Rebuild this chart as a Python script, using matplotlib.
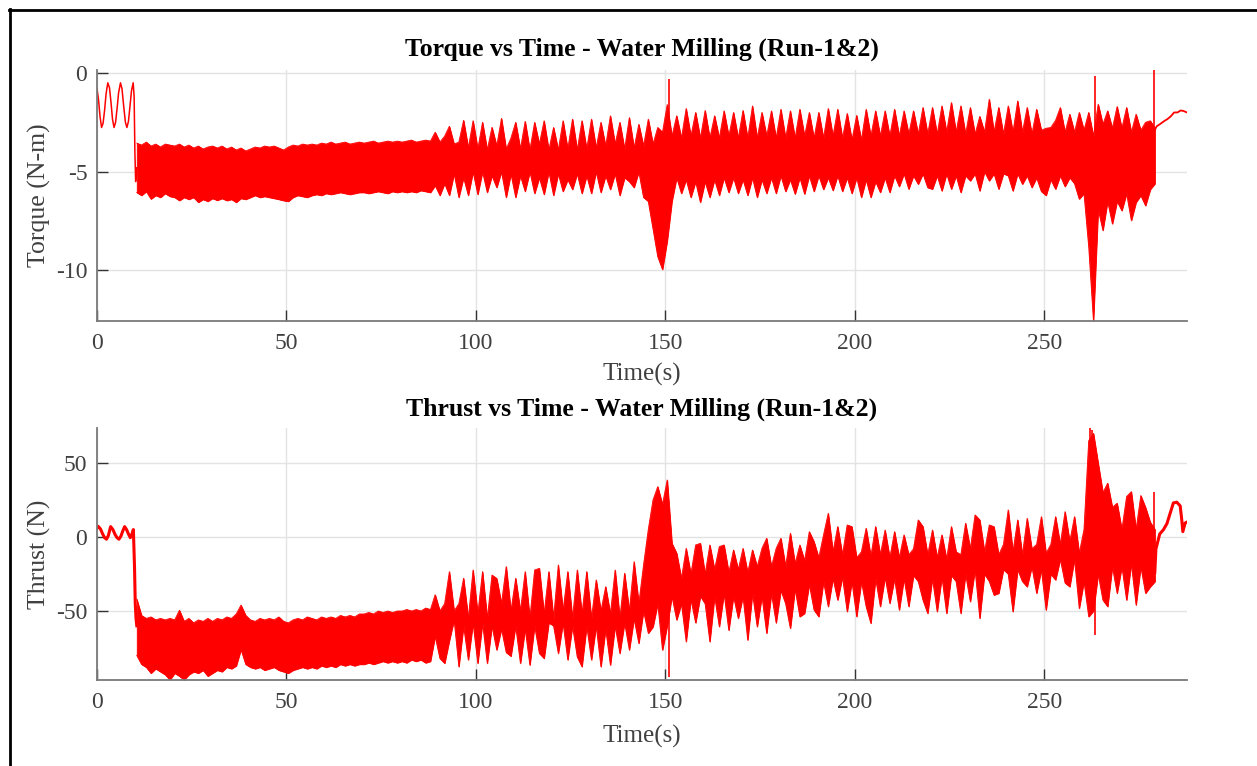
import numpy as np
import matplotlib
matplotlib.use("Agg")
import matplotlib.pyplot as plt
from matplotlib.lines import Line2D

# ---------------- data ----------------
# start-up oscillation before milling begins
torque_start_t = [0, 0.4, 0.8, 1.2, 1.6, 2.0, 2.4, 2.85, 3.3, 3.7, 4.1, 4.5, 4.9, 5.3,
                  5.7, 6.2, 6.6, 7.0, 7.5, 7.9, 8.3, 8.7, 9.1, 9.55, 9.8, 10.0, 10.2, 10.5]
torque_start_v = [-0.8, -1.35, -2.2, -2.76, -2.55, -1.9, -1.05, -0.5, -0.75, -1.5, -2.35, -2.76,
                  -2.5, -1.8, -1.0, -0.5, -0.8, -1.6, -2.5, -2.76, -2.45, -1.7, -0.9, -0.5,
                  -1.2, -4.0, -5.5, -4.8]
thrust_start_t = [0, 0.3, 0.9, 1.5, 2.0, 2.5, 3.0, 3.6, 4.2, 4.8, 5.3, 5.8, 6.3, 6.8,
                  7.3, 7.8, 8.3, 8.8, 9.3, 9.6, 9.9, 10.1, 10.3, 10.5]
thrust_start_v = [6, 7.2, 5.5, 2, -0.5, -1.5, 1, 7, 5, 1.5, -0.5, -1.5, 0.5, 4,
                  7, 5, 2, -0.5, 2.5, 5, -20, -45, -55, -60]

# envelope sampling grid of the dense milling signal (s)
band_t0 = 10.5
band_dt = 1.25

torque_upper = [
    -3.55, -3.65, -3.5, -3.7, -3.6, -3.75, -3.6, -3.65,
    -3.7, -3.6, -3.75, -3.65, -3.8, -3.7, -3.85, -3.75,
    -3.7, -3.8, -3.7, -3.85, -3.75, -3.9, -3.8, -3.95,
    -3.85, -3.75, -3.8, -3.7, -3.75, -3.7, -3.8, -3.9,
    -3.75, -3.65, -3.7, -3.6, -3.65, -3.6, -3.65, -3.55,
    -3.6, -3.5, -3.6, -3.55, -3.5, -3.6, -3.55, -3.5,
    -3.55, -3.5, -3.45, -3.55, -3.5, -3.45, -3.5, -3.45,
    -3.5, -3.45, -3.4, -3.5, -3.45, -3.4, -3.45, -3.0,
    -3.5, -3.2, -2.7, -3.6, -3.5, -2.4, -3.8, -2.42,
    -3.85, -2.5, -3.9, -2.75, -3.7, -2.3, -3.85, -3.3,
    -2.5, -3.85, -2.45, -3.9, -2.5, -3.6, -2.42, -3.9,
    -2.76, -3.9, -2.42, -3.85, -2.34, -3.9, -2.42, -3.85,
    -2.34, -3.8, -2.5, -3.7, -2.17, -3.6, -2.5, -3.85,
    -2.26, -3.8, -2.6, -3.7, -2.34, -3.6, -2.76, -3.0,
    -1.6, -3.2, -2.17, -3.3, -1.8, -3.2, -2.0, -3.3,
    -1.9, -3.3, -2.17, -3.3, -1.92, -3.2, -2.0, -3.3,
    -1.9, -3.3, -1.67, -3.3, -2.0, -3.2, -1.92, -3.3,
    -1.84, -3.3, -1.92, -3.3, -1.84, -3.2, -2.0, -3.3,
    -2.0, -3.3, -1.8, -3.2, -1.84, -3.3, -2.05, -3.4,
    -2.15, -3.4, -1.84, -3.2, -1.92, -3.2, -1.92, -3.2,
    -1.84, -3.2, -1.92, -3.1, -1.92, -3.1, -1.75, -3.1,
    -1.75, -3.1, -1.67, -3.0, -1.5, -3.0, -1.67, -3.1,
    -1.75, -3.1, -2.2, -3.0, -1.33, -3.0, -1.75, -3.1,
    -1.67, -3.0, -1.42, -3.0, -1.75, -3.1, -1.84, -2.9,
    -2.8, -2.76, -2.4, -1.75, -3.0, -2.09, -3.0, -2.0,
    -2.9, -2.0, -3.2, -1.58, -2.6, -1.92, -2.8, -1.7,
    -2.8, -1.75, -3.0, -2.09, -2.9, -2.5, -2.42, -2.8,
]
torque_lower = [
    -6.05, -6.2, -6.0, -6.38, -6.2, -6.3, -6.1, -6.25,
    -6.3, -6.46, -6.3, -6.4, -6.3, -6.55, -6.4, -6.5,
    -6.35, -6.45, -6.35, -6.46, -6.4, -6.55, -6.35, -6.4,
    -6.3, -6.2, -6.3, -6.25, -6.3, -6.35, -6.4, -6.46,
    -6.5, -6.3, -6.2, -6.25, -6.3, -6.2, -6.15, -6.2,
    -6.1, -6.15, -6.1, -6.05, -6.1, -6.15, -6.1, -6.05,
    -6.05, -6.1, -6.05, -6.0, -6.05, -6.1, -6.0, -6.05,
    -6.0, -6.05, -6.0, -6.05, -5.95, -6.0, -6.05, -5.7,
    -6.2, -5.6, -6.2, -5.1, -6.3, -5.3, -6.2, -5.0,
    -6.15, -5.0, -6.05, -5.2, -5.8, -5.0, -6.3, -5.1,
    -6.3, -5.2, -6.0, -5.0, -6.1, -5.3, -6.15, -5.0,
    -6.2, -5.1, -6.0, -5.4, -5.9, -5.1, -6.1, -5.2,
    -6.1, -5.0, -6.05, -5.2, -5.9, -5.1, -6.2, -5.3,
    -5.5, -5.8, -5.0, -6.3, -6.5, -7.9, -9.3, -9.95,
    -8.5, -6.5, -5.3, -6.1, -5.4, -6.3, -5.5, -6.55,
    -5.5, -6.3, -5.4, -6.2, -5.3, -6.05, -5.3, -6.1,
    -5.4, -6.2, -5.3, -6.3, -5.4, -6.1, -5.3, -6.1,
    -5.2, -6.0, -5.4, -6.13, -5.3, -6.13, -5.2, -6.0,
    -5.2, -5.9, -5.3, -5.95, -5.2, -6.0, -5.3, -6.1,
    -5.3, -6.3, -5.4, -6.3, -5.5, -6.05, -5.3, -6.05,
    -5.2, -5.75, -5.1, -5.88, -5.2, -5.63, -5.1, -5.8,
    -5.88, -5.2, -5.97, -5.1, -5.88, -5.2, -6.05, -5.2,
    -5.46, -5.1, -5.97, -5.0, -5.46, -5.1, -5.88, -5.1,
    -5.2, -5.97, -5.1, -5.63, -5.2, -5.8, -5.3, -6.0,
    -6.2, -5.4, -5.88, -5.2, -5.75, -5.3, -5.6, -6.38,
    -6.1, -8.8, -12.55, -6.9, -7.97, -6.5, -7.64, -6.5,
    -6.97, -6.1, -7.47, -6.55, -6.2, -6.72, -5.9, -5.6,
]
thrust_upper = [
    -42, -53, -55, -54, -56, -55, -56, -55,
    -56, -49.5, -57, -55, -58, -56, -57, -55,
    -57, -55, -56, -54, -55, -52, -46, -53,
    -56, -57, -55, -56, -55, -56, -54, -57,
    -58, -56, -55, -56, -54, -55, -56, -54,
    -55, -54, -55, -53, -54, -53, -54, -52,
    -52, -51, -52, -50, -51, -50, -51, -50,
    -50, -49, -50, -49, -50, -48, -49, -39,
    -50, -45, -23.4, -50, -45, -27.9, -55, -22.3,
    -52, -23.4, -55, -25.7, -28, -45, -20, -50,
    -27.9, -50, -23.4, -55, -22.3, -21.2, -52, -23.4,
    -55, -18.9, -50, -23.4, -55, -22.3, -52, -23.4,
    -55, -29, -50, -33.6, -52, -22.3, -55, -24.5,
    -50, -16.7, -45, -18.9, 5, 25, 34, 22,
    38.5, -4.3, -11, -28, -7.7, -25, -5.4, -4.3,
    -25, -5.4, -22, -6.5, -5.4, -24, -8.8, -22,
    -7.7, -24, -8.8, -20, -7.7, -0.9, -20, -7.7,
    -0.9, -20, 2.5, -18, -5.4, -16, 3.6, -3.2,
    -14, 1.3, 16, -10, 7, -12, 8.1, 7,
    -14, -10, 5.9, -13, 7, -12, 4.7, -14,
    3.6, -14, 1.4, -12, -8, 11.5, 7, -12,
    4.7, -14, 1.4, -15, 7, -10, -12, 9.3,
    -8, 14.9, 11.5, -10, 8.1, 7, -12, -5,
    18.3, -10, 11.5, -12, 12.6, -8, -5, 13.7,
    -11, -5, 13.7, -5, 17.1, -3, 13.7, -11,
    5, 65, 70, 49.8, 30, 36.3, 20, 22.8,
    5, 27.3, 30.6, 5, 28, 20, 10, 5,
]
thrust_lower = [
    -80, -86, -88, -92, -89, -91, -93, -96.5,
    -92, -94, -96.5, -93, -91, -92, -90, -94,
    -92, -90, -91, -88, -89, -87, -76, -86,
    -88, -89, -88, -90, -89, -88, -90, -91,
    -92, -90, -89, -88, -89, -88, -89, -87,
    -88, -87, -88, -86, -87, -86, -87, -86,
    -86, -85, -86, -85, -84, -85, -84, -85,
    -84, -85, -83, -84, -83, -85, -84, -67,
    -82, -85.3, -70, -56, -87.6, -60, -83, -58,
    -85.3, -58, -85.3, -60, -76.3, -62, -78, -80.5,
    -60, -85.3, -62, -86.5, -60, -78.6, -82, -58,
    -60, -78.6, -58, -83, -60, -81, -87.6, -60,
    -83, -60, -87.6, -62, -86.5, -60, -78.6, -58,
    -76.3, -55, -71.8, -50, -65, -60.6, -45, -76.3,
    -60, -40, -56, -45, -70.7, -42, -58, -40,
    -45, -70.7, -40, -60.6, -38, -63, -40, -55,
    -40, -69.6, -38, -60.6, -40, -65, -38, -58,
    -36, -45, -61.7, -35, -53.8, -51.6, -32, -49.3,
    -53.8, -30, -47, -28, -42.6, -27, -50.4, -30,
    -53.8, -30, -47, -58.3, -28, -47, -27, -44.8,
    -28, -49.3, -28, -47, -26, -30, -42.6, -51.6,
    -28, -50.4, -27, -51.6, -26, -30, -51.6, -25,
    -43.7, -22, -54.9, -25, -30, -39.2, -38, -22,
    -25, -50.4, -22, -30, -33.6, -20, -38, -22,
    -49.3, -25, -29, -15, -31, -33.6, -15, -48.2,
    -30, -53.8, -50, -25, -42.6, -47, -20, -38,
    -20, -42.6, -18, -45.9, -20, -38, -33.6, -30,
]

# narrow isolated spikes: time, from, to
torque_spike_t = [150.9, 263.3, 279.1]
torque_spike_from = [-3.0, -3.0, -3.0]
torque_spike_to = [-0.3, -0.15, 0.2]
thrust_spike_t = [262.1, 262.6, 279.0, 150.9, 263.4]
thrust_spike_from = [40, 40, 0, -40, -40]
thrust_spike_to = [74.0, 72.5, 30.6, -94.4, -66.0]

# trailing part after milling stops
torque_tail_t = [279.3, 279.7, 280.5, 281.8, 282.5, 283.4, 284.3, 285.2, 286.0, 286.7, 287.7]
torque_tail_v = [-2.85, -2.7, -2.6, -2.42, -2.34, -2.2, -2.0, -2.0, -1.9, -1.92, -2.0]
thrust_tail_t = [279.2, 279.5, 280.5, 281.5, 282.4, 283.5, 284.1, 285.0, 285.9, 286.3, 286.6, 287.2, 287.9]
thrust_tail_v = [-24, -8, 2, 5, 9, 18, 23, 23.5, 21, 12, 3.6, 9.4, 10.3]

x_ticks = [0, 50, 100, 150, 200, 250]
torque_yticks = [-10, -5, 0]
thrust_yticks = [-50, 0, 50]

# ---------------- figure ----------------
plt.rcParams['font.family'] = ['Liberation Serif', 'DejaVu Serif']
W, H = 1257, 766
fig = plt.figure(figsize=(W / 100, H / 100), dpi=100)

def px_axes(left, top, right, bottom):
    return fig.add_axes([left / W, 1 - bottom / H, (right - left) / W, (bottom - top) / H])

ax1 = px_axes(97, 70, 1187, 321)
ax2 = px_axes(97, 428, 1187, 680)

RED = '#ff0000'
TXT = '#404040'

def draw(ax, st_t, st_v, up, lo, sp_t, sp_from, sp_to, tl_t, tl_v, start_lw, tail_lw):
    tb = band_t0 + band_dt * np.arange(len(up))
    ax.plot(st_t, st_v, color=RED, lw=start_lw, solid_joinstyle='round')
    ax.fill_between(tb, lo, up, color=RED, lw=0.6, edgecolor=RED)
    ax.plot(tb, up, color=RED, lw=0.6)
    ax.plot(tb, lo, color=RED, lw=0.6)
    ax.vlines(sp_t, sp_from, sp_to, color=RED, lw=1.2)
    ax.plot(tl_t, tl_v, color=RED, lw=tail_lw)

draw(ax1, torque_start_t, torque_start_v, torque_upper, torque_lower,
     torque_spike_t, torque_spike_from, torque_spike_to, torque_tail_t, torque_tail_v, 1.1, 1.3)
draw(ax2, thrust_start_t, thrust_start_v, thrust_upper, thrust_lower,
     thrust_spike_t, thrust_spike_from, thrust_spike_to, thrust_tail_t, thrust_tail_v, 2.2, 2.2)

def style(ax, ylim, yticks, ylabel, title, title_pad, xlab_y):
    ax.set_xlim(0, 287.7)
    ax.set_ylim(*ylim)
    ax.set_xticks(x_ticks)
    ax.set_yticks(yticks)
    ax.set_xticklabels([str(v) for v in x_ticks])
    ax.set_yticklabels([str(v) for v in yticks])
    for s in ('top', 'right'):
        ax.spines[s].set_visible(False)
    for s in ('left', 'bottom'):
        ax.spines[s].set_color('#7a7a7a')
        ax.spines[s].set_linewidth(1.3)
    ax.tick_params(direction='in', length=8, width=1.0, color='#333333',
                   labelsize=17, labelcolor=TXT)
    ax.tick_params(axis='x', pad=9)
    ax.tick_params(axis='y', pad=7)
    ax.grid(True, color='#e3e3e3', lw=1.0)
    ax.set_axisbelow(True)
    ax.set_xlabel('Time(s)', fontsize=18, color=TXT)
    ax.xaxis.set_label_coords(0.5, xlab_y)
    ax.set_ylabel(ylabel, fontsize=18.5, color=TXT)
    ax.yaxis.set_label_coords(-0.042, 0.5)
    ax.set_title(title, fontsize=18.5, fontweight='bold', color='black', pad=title_pad)

style(ax1, (-12.56, 0.15), torque_yticks, 'Torque (N-m)',
      'Torque vs Time - Water Milling (Run-1&2)', 10.5, -0.165)
style(ax2, (-96.6, 73.6), thrust_yticks, 'Thrust (N)',
      'Thrust vs Time - Water Milling (Run-1&2)', 9.0, -0.178)

# outer frame (only top and left edges visible)
fig.add_artist(Line2D([9 / W, 1.0], [1 - 9.5 / H, 1 - 9.5 / H], transform=fig.transFigure,
                      color='black', lw=2))
fig.add_artist(Line2D([9.5 / W, 9.5 / W], [0.0, 1 - 9 / H], transform=fig.transFigure,
                      color='black', lw=2))

fig.savefig('out.png', dpi=100, facecolor='white')
